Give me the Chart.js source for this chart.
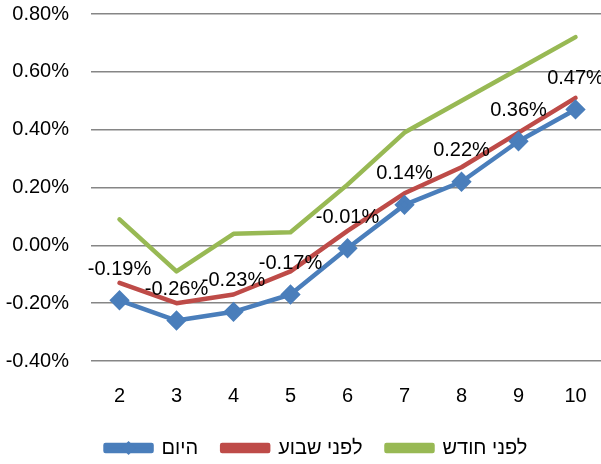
<!DOCTYPE html>
<html>
<head>
<meta charset="utf-8">
<script src="https://cdn.jsdelivr.net/npm/chart.js@4/dist/chart.umd.min.js"></script>
<style>
  html, body { margin: 0; padding: 0; background: #fff; }
  #wrap { width: 601px; height: 464px; }
</style>
</head>
<body>
<div id="wrap"><canvas id="line"></canvas></div>
<script>
var labels = ['2', '3', '4', '5', '6', '7', '8', '9', '10'];
var today = [-0.19, -0.26, -0.23, -0.17, -0.01, 0.14, 0.22, 0.36, 0.47];
var weekAgo = [-0.13, -0.20, -0.17, -0.09, 0.05, 0.18, 0.27, 0.39, 0.51];
var monthAgo = [0.09, -0.09, 0.04, 0.045, 0.21, 0.39, 0.50, 0.61, 0.72];
var names = ['היום', 'לפני שבוע', 'לפני חודש'];

var FONT = '"Liberation Sans", Arial, sans-serif';
var LEGEND_SHIFT = 16;
var PLOT_LEFT = 91, PLOT_RIGHT = 604;   // plot area runs a little past the canvas edge

var tweaks = {
    id: 'tweaks',
    afterLayout: function (chart) {
        var a = chart.chartArea;
        a.left = PLOT_LEFT;
        a.right = PLOT_RIGHT;
        a.width = PLOT_RIGHT - PLOT_LEFT;
        var xs = chart.scales.x;
        xs.left = PLOT_LEFT;
        xs.right = PLOT_RIGHT;
        xs.width = PLOT_RIGHT - PLOT_LEFT;
        xs.configure();
    },
    afterUpdate: function (chart) {
        // legend sits a bit right of the canvas centre
        var lg = chart.legend;
        lg.left += LEGEND_SHIFT;
        lg.right += LEGEND_SHIFT;
        lg.legendHitBoxes.forEach(function (hb) { hb.left += LEGEND_SHIFT; });
    },
    afterDatasetsDraw: function (chart) {
        // value labels above the blue series
        var ctx = chart.ctx;
        var meta = chart.getDatasetMeta(0);
        ctx.save();
        ctx.font = '20px ' + FONT;
        ctx.fillStyle = '#000';
        ctx.textAlign = 'center';
        ctx.textBaseline = 'middle';
        meta.data.forEach(function (pt, i) {
            ctx.fillText(today[i].toFixed(2) + '%', pt.x, pt.y - 31);
        });
        ctx.restore();
    },
    afterDraw: function (chart) {
        // diamond on the first legend sample
        var hb = chart.legend.legendHitBoxes[0];
        if (!hb) return;
        var ctx = chart.ctx;
        var cx = hb.left + 23, cy = hb.top + hb.height / 2, r = 7;
        ctx.save();
        ctx.fillStyle = '#4A7EBB';
        ctx.beginPath();
        ctx.moveTo(cx, cy - r);
        ctx.lineTo(cx + r, cy);
        ctx.lineTo(cx, cy + r);
        ctx.lineTo(cx - r, cy);
        ctx.closePath();
        ctx.fill();
        ctx.restore();
    }
};

var ctx = document.getElementById('line');
var chart = new Chart(ctx, {
    type: 'line',
    data: {
        labels: labels,
        datasets: [{
            label: names[0],
            data: today,
            borderColor: '#4A7EBB',
            backgroundColor: '#4A7EBB',
            borderWidth: 4.5,
            pointStyle: 'rectRot',
            pointRadius: 7,
            pointHoverRadius: 7,
            order: 0
        }, {
            label: names[1],
            data: weekAgo,
            borderColor: '#BE4B48',
            backgroundColor: '#BE4B48',
            borderWidth: 4.5,
            pointRadius: 0,
            order: 1
        }, {
            label: names[2],
            data: monthAgo,
            borderColor: '#98B954',
            backgroundColor: '#98B954',
            borderWidth: 4.5,
            pointRadius: 0,
            order: 2
        }]
    },
    options: {
        responsive: true,
        maintainAspectRatio: false,
        animation: false,
        layout: { padding: { top: 14, right: 0, left: 0, bottom: -4 } },
        elements: {
            line: { borderCapStyle: 'round', borderJoinStyle: 'round' }
        },
        scales: {
            x: {
                offset: true,
                grid: { display: false, drawTicks: false },
                border: { display: false },
                ticks: { color: '#000', font: { family: FONT, size: 20 }, padding: 23 },
                afterFit: function (s) {
                    s.paddingLeft = 0;
                    s.paddingRight = 0;
                    s.height -= 17;
                }
            },
            y: {
                min: -0.4,
                max: 0.8,
                grid: { color: '#868686', lineWidth: 1.5, drawTicks: false },
                border: { display: false },
                ticks: {
                    stepSize: 0.2,
                    color: '#000',
                    font: { family: FONT, size: 20 },
                    padding: 22,
                    callback: function (v) { return v.toFixed(2) + '%'; }
                },
                afterFit: function (s) {
                    s.paddingTop = 0;
                    s.paddingBottom = 0;
                    s.width = 91;
                }
            }
        },
        plugins: {
            tooltip: { enabled: false },
            legend: {
                position: 'bottom',
                labels: {
                    color: '#000',
                    font: { family: FONT, size: 20 },
                    boxWidth: 46,
                    boxHeight: 6,
                    padding: 24
                }
            }
        }
    },
    plugins: [tweaks]
});
</script>
</body>
</html>
